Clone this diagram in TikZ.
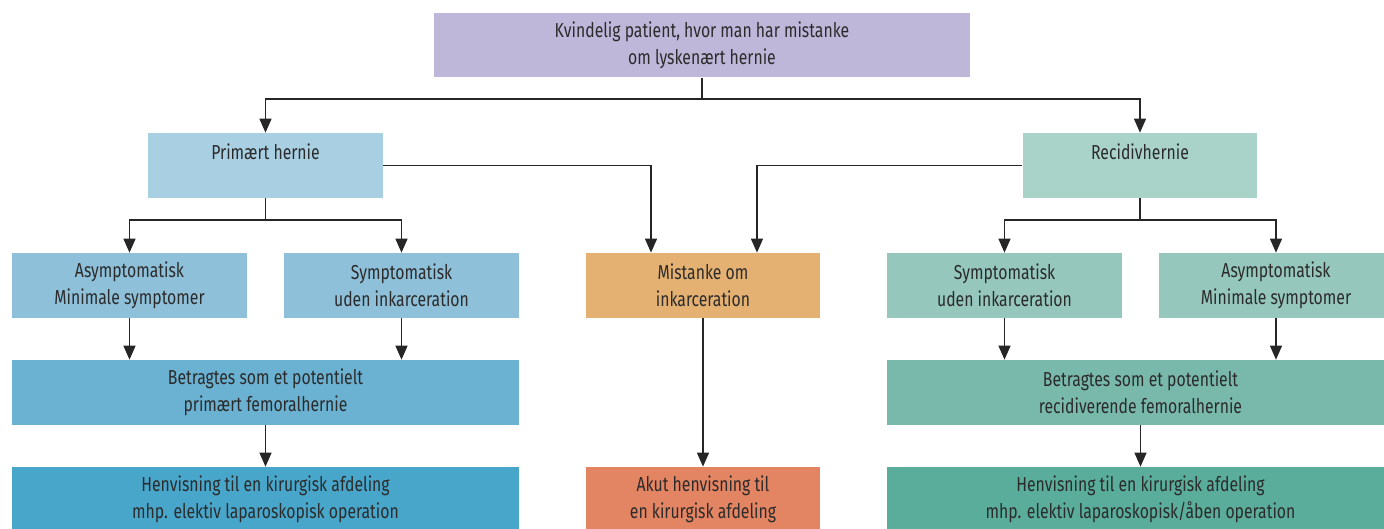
\documentclass[tikz,border=0pt]{standalone}
\usepackage{fontspec}
\setmainfont{Fira Sans}[FakeStretch=0.78]
\usetikzlibrary{arrows.meta}

\definecolor{cTop}{HTML}{BFB7D9}
\definecolor{cPrim}{HTML}{A9CFE2}
\definecolor{cPrimSub}{HTML}{8FC0D9}
\definecolor{cPrimBet}{HTML}{6AB1D2}
\definecolor{cPrimHen}{HTML}{48A6CB}
\definecolor{cRec}{HTML}{A9D3C9}
\definecolor{cRecSub}{HTML}{95C7BC}
\definecolor{cRecBet}{HTML}{79B9AC}
\definecolor{cRecHen}{HTML}{5AAD9B}
\definecolor{cMist}{HTML}{E4B172}
\definecolor{cAkut}{HTML}{E38462}
\definecolor{cText}{HTML}{2B2B2B}

\tikzset{
	box/.style={rectangle, inner sep=0pt, minimum height=1.3cm, align=center,
		text=cText, font=\fontsize{11.5}{15.5}\selectfont},
	smallbox/.style={box, minimum width=4.7cm},
	widebox/.style={box, minimum width=10.14cm},
	link/.style={draw=black!85, line width=0.75pt},
	arr/.style={link, -{Triangle[length=0.28cm, width=0.24cm]}}
}

\begin{document}
\begin{tikzpicture}[x=0.02cm, y=-0.02cm]
	\useasboundingbox (0,0) rectangle (1384,528);
	\clip (0,0) rectangle (1384,528);
	
	% top
	\node[box, minimum width=10.72cm, fill=cTop] (patient) at (702,45)
		{Kvindelig patient, hvor man har mistanke\\om lyskenært hernie};
	
	% level 2
	\node[smallbox, fill=cPrim] (primary) at (265.5,165.5) {Primært hernie\\\mbox{}};
	\node[smallbox, fill=cRec] (recidiv) at (1140,165.5) {Recidivhernie\\\mbox{}};
	
	% level 3
	\node[smallbox, fill=cPrimSub] (asymL) at (129.5,285.5) {Asymptomatisk\\Minimale symptomer};
	\node[smallbox, fill=cPrimSub] (symL) at (401.5,285.5) {Symptomatisk\\uden inkarceration};
	\node[smallbox, fill=cMist] (suspect) at (703,285.5) {Mistanke om\\inkarceration};
	\node[smallbox, fill=cRecSub] (symR) at (1004.5,285.5) {Symptomatisk\\uden inkarceration};
	\node[smallbox, fill=cRecSub] (asymR) at (1276,285.5) {Asymptomatisk\\Minimale symptomer};
	
	% level 4
	\node[widebox, fill=cPrimBet] (femL) at (265.5,392.5)
		{Betragtes som et potentielt\\primært femoralhernie};
	\node[widebox, fill=cRecBet] (femR) at (1140.5,392.5)
		{Betragtes som et potentielt\\recidiverende femoralhernie};
	
	% level 5
	\node[widebox, fill=cPrimHen] (referL) at (265.5,499.5)
		{Henvisning til en kirurgisk afdeling\\mhp. elektiv laparoskopisk operation};
	\node[smallbox, fill=cAkut] (acute) at (703,499.5)
		{Akut henvisning til\\en kirurgisk afdeling};
	\node[widebox, fill=cRecHen] (referR) at (1140.5,499.5)
		{Henvisning til en kirurgisk afdeling\\mhp. elektiv laparoskopisk/åben operation};
	
	% connectors
	\coordinate (splitTop) at (702,99);
	\coordinate (splitL) at (265.5,220);
	\coordinate (splitR) at (1140,220);
	
	\draw[link] (patient.south) -- (splitTop);
	\draw[arr] (splitTop) -| (primary.north);
	\draw[arr] (splitTop) -| (recidiv.north);
	
	\draw[arr] (primary.east) -| ([xshift=-1.04cm]suspect.north);
	\draw[arr] (recidiv.west) -| ([xshift=1.08cm]suspect.north);
	
	\draw[link] (primary.south) -- (splitL);
	\draw[arr] (splitL) -| (asymL.north);
	\draw[arr] (splitL) -| (symL.north);
	\draw[link] (recidiv.south) -- (splitR);
	\draw[arr] (splitR) -| (symR.north);
	\draw[arr] (splitR) -| (asymR.north);
	
	\draw[arr] (asymL.south) -- (asymL.south |- femL.north);
	\draw[arr] (symL.south) -- (symL.south |- femL.north);
	\draw[arr] (symR.south) -- (symR.south |- femR.north);
	\draw[arr] (asymR.south) -- (asymR.south |- femR.north);
	
	\draw[arr] (femL.south) -- (referL.north);
	\draw[arr] (suspect.south) -- (acute.north);
	\draw[arr] (femR.south) -- (referR.north);
\end{tikzpicture}
\end{document}
